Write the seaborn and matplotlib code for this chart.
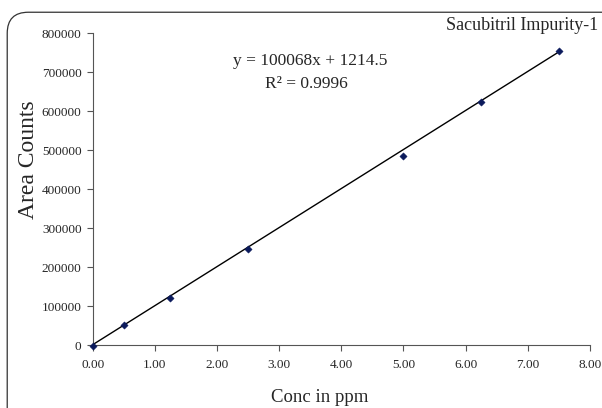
import numpy as np
import matplotlib
matplotlib.use("Agg")
import matplotlib.pyplot as plt
import seaborn as sns
from matplotlib.patches import FancyBboxPatch

# Calibration data
conc = [0.0, 0.5, 1.25, 2.5, 5.0, 6.25, 7.5]
area = [-2000, 51000, 120000, 246000, 486000, 623000, 754000]
slope = 100068
intercept = 1214.5
x_ticks = [0, 1, 2, 3, 4, 5, 6, 7, 8]
y_ticks = [0, 100000, 200000, 300000, 400000, 500000, 600000, 700000, 800000]

sns.set_style("ticks")
plt.rcParams['font.family'] = ['Liberation Serif', 'DejaVu Serif']

fig = plt.figure(figsize=(6.02, 4.08), dpi=100)
ax = fig.add_axes([0.154, 0.154, 0.826, 0.765])

# rounded border around the whole chart (right side runs off the image)
frame = FancyBboxPatch((0.012, -0.05), 1.03, 1.02, boxstyle="round,pad=0,rounding_size=0.035",
                       transform=fig.transFigure, fill=False, edgecolor="#333333", linewidth=0.9,
                       mutation_aspect=602 / 408)
fig.patches.append(frame)

fit_x = np.array([conc[0], conc[-1]])
sns.lineplot(x=fit_x, y=slope * fit_x + intercept, ax=ax, color="black", linewidth=1)
sns.scatterplot(x=conc, y=area, ax=ax, marker="D", s=14, color="#0b1a5c",
                edgecolor="#0b1a5c", zorder=3, clip_on=False)

ax.set_xlim(0, 8)
ax.set_ylim(0, 800000)
ax.set_xticks(x_ticks)
ax.set_xticklabels([f"{v:.2f}" for v in x_ticks])
ax.set_yticks(y_ticks)
ax.set_yticklabels([str(v) for v in y_ticks])
ax.tick_params(axis="both", labelsize=9.5, length=4, width=0.8, color="#555555")
ax.tick_params(axis="y", pad=4)
ax.tick_params(axis="x", pad=6)
for s in ["top", "right"]:
    ax.spines[s].set_visible(False)
for s in ["left", "bottom"]:
    ax.spines[s].set_color("#555555")
    ax.spines[s].set_linewidth(0.8)
ax.patch.set_alpha(0)

fig.text(320 / 602, 1 - 398 / 408, "Conc in ppm", ha="center", va="center", fontsize=13.5)
fig.text(29 / 602, 1 - 160 / 408, "Area Counts", ha="center", va="center", rotation=90, fontsize=17)

ax.text(0.437, 0.897, "y = 100068x + 1214.5", transform=ax.transAxes, ha="center", fontsize=12.5)
ax.text(0.43, 0.824, "R² = 0.9996", transform=ax.transAxes, ha="center", fontsize=12.5)
fig.text(0.993, 1 - 30 / 408, "Sacubitril Impurity-1", ha="right", fontsize=13)

fig.savefig("out.png", dpi=100)
